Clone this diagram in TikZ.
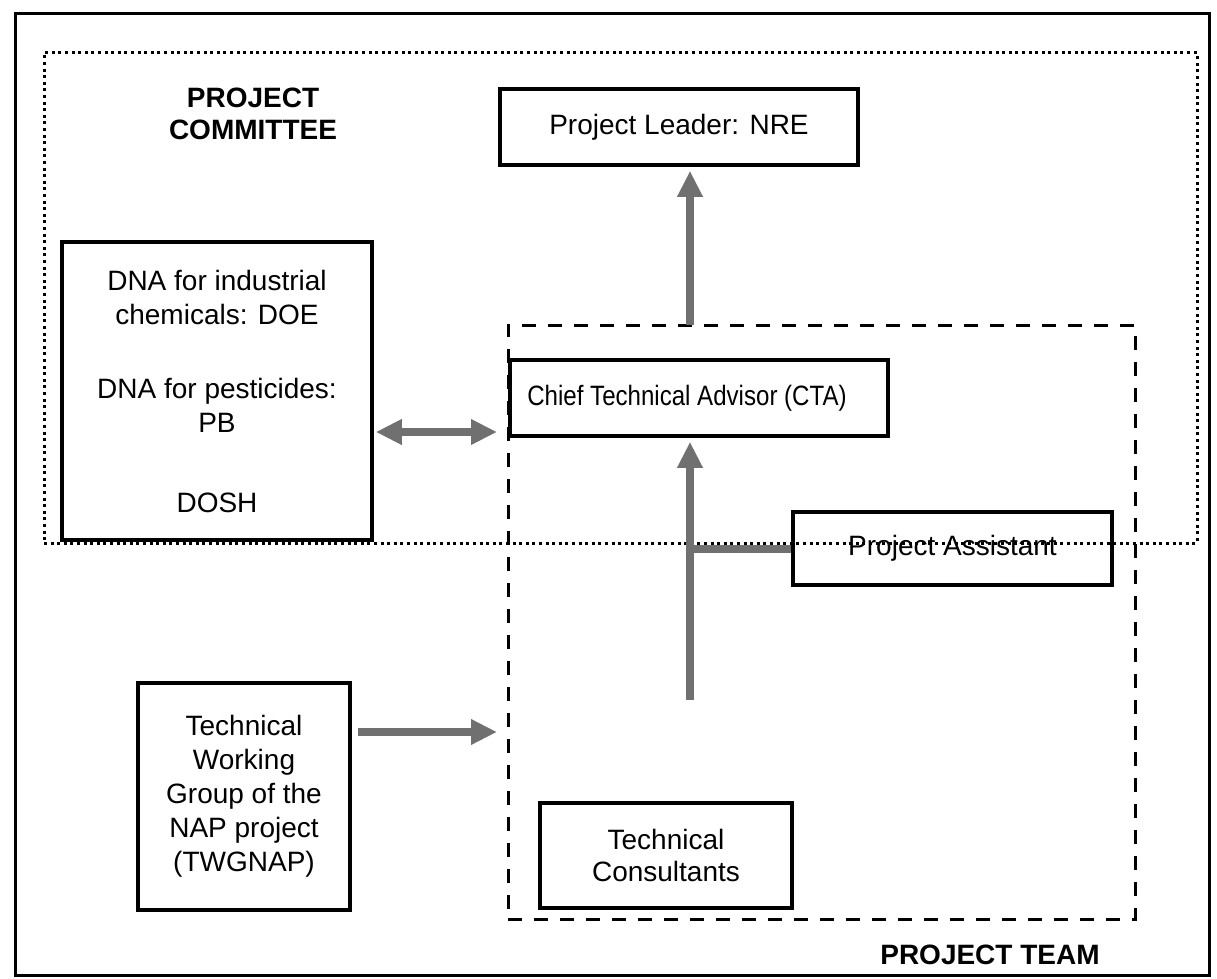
\documentclass[tikz,border=0pt]{standalone}
\usepackage{fontspec}
\setmainfont{Liberation Sans}
\newfontfamily\narrowfont[FakeStretch=0.86]{Liberation Sans}
\usetikzlibrary{
  arrows.meta,
  positioning
}
\definecolor{arrowgray}{RGB}{112,112,112}
\tikzset{
  orgbox/.style={
    draw=black, line width=1.8pt, align=center,
    font=\fontsize{14}{17}\selectfont, inner sep=0pt
  },
  grouptitle/.style={
    font=\fontsize{14}{16}\selectfont\bfseries, align=center
  },
  committeebox/.style={
    draw=black, line width=1.5pt,
    dash pattern=on 1.5pt off 1.8pt, inner sep=0pt
  },
  teambox/.style={
    draw=black, line width=1.5pt,
    dash pattern=on 7pt off 6pt, inner sep=0pt
  },
  fatarrow/.style={
    -{Triangle[length=13pt,width=12pt]},
    draw=arrowgray, line width=4pt
  },
  fatbiarrow/.style={
    {Triangle[length=13pt,width=12pt]}-{Triangle[length=13pt,width=12pt]},
    draw=arrowgray, line width=4pt
  },
  fatline/.style={
    draw=arrowgray, line width=4pt
  },
}

\begin{document}
\begin{tikzpicture}[x=0.5pt, y=-0.5pt]

  \useasboundingbox (0,0) rectangle (1217,979);

  %% Outer frame
  \draw[line width=1.5pt] (15,14) rectangle (1209,975);

  %% Groups
  \node[teambox, minimum width=313.5pt, minimum height=297pt]
    (team) at (821.5,622) {};
  \node[grouptitle] (teamtitle) at (990,955) {PROJECT TEAM};
  \node[grouptitle] (committeetitle) at (253,114) {PROJECT\\COMMITTEE};

  %% Boxes
  \node[orgbox, minimum width=179pt, minimum height=38pt]
    (leader) at (679,127) {Project Leader: NRE};
  \node[orgbox, minimum width=155pt, minimum height=149pt]
    (dna) at (217,391)
    {DNA for industrial\\chemicals: DOE\\[20pt]DNA for pesticides:\\PB\\[23pt]DOSH};
  \node[orgbox, minimum width=189pt, minimum height=38pt]
    (cta) at (699,398) {\narrowfont Chief Technical Advisor (CTA)\hspace*{12pt}};
  \node[orgbox, minimum width=159.5pt, minimum height=36.5pt]
    (assist) at (952.5,548.5) {Project Assistant};
  \node[orgbox, minimum width=106pt, minimum height=113.5pt]
    (twg) at (244,796.5)
    {Technical\\Working\\Group of the\\NAP project\\(TWGNAP)};
  \node[orgbox, minimum width=126pt, minimum height=52.5pt, font=\fontsize{14}{16}\selectfont]
    (consult) at (666,855.5) {Technical\\Consultants};

  %% Committee frame, drawn over the assistant box
  \node[committeebox, minimum width=576.5pt, minimum height=245pt]
    (committee) at (620.5,298) {};

  %% Arrows
  \coordinate (ctaup) at (690,325);
  \coordinate (shaftend) at (690,700);
  \coordinate (dnaend) at (497,432);
  \coordinate (twgend) at (497,732);

  \draw[fatarrow, shorten >=2pt] (ctaup) -- (leader.south -| ctaup);
  \draw[fatbiarrow, shorten <=1pt] (dna.east |- dnaend) -- (dnaend);
  \draw[fatarrow, shorten >=2pt] (shaftend) -- (cta.south -| shaftend);
  \draw[fatline] (assist.west) -- (assist.west -| shaftend);
  \draw[fatarrow, shorten <=3pt] (twg.east |- twgend) -- (twgend);

\end{tikzpicture}
\end{document}
